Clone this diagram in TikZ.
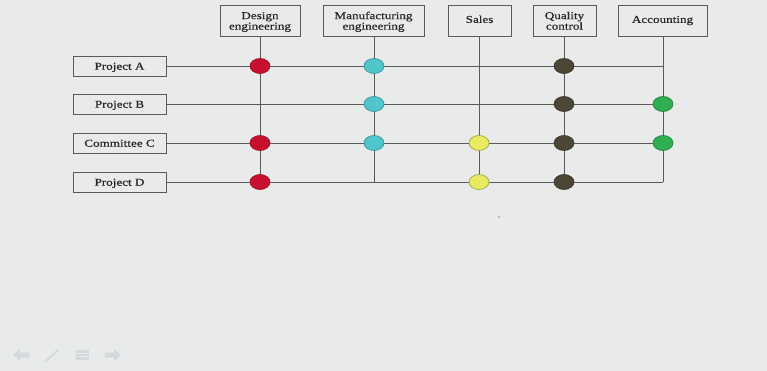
\documentclass[tikz,border=0pt]{standalone}
\usepackage{fontspec}
\setmainfont[FakeStretch=1.25,FakeBold=0.6]{Liberation Serif}
\usetikzlibrary{shapes.geometric}
\definecolor{bg}{HTML}{E9EBEB}
\definecolor{ln}{HTML}{5A5A5A}
\definecolor{txt}{HTML}{262626}
\definecolor{cred}{HTML}{C8102E}
\definecolor{ccyan}{HTML}{4EC6CC}
\definecolor{cyel}{HTML}{E8EA62}
\definecolor{cdark}{HTML}{4B4636}
\definecolor{cgreen}{HTML}{2FAE52}
\definecolor{navc}{HTML}{D3D9DC}
\newcommand{\mytwo}[2]{\begin{tabular}{@{}c@{}}#1\\#2\end{tabular}}
\tikzset{
  dept/.style={draw=ln, line width=0.8pt, fill=bg, text=txt, inner sep=0pt,
    minimum height=31pt, font=\fontsize{10.5}{10.5}\selectfont},
  depttwo/.style={dept, text height=11pt, text depth=2pt},
  deptone/.style={dept, text height=6.6pt, text depth=1.8pt},
  proj/.style={draw=ln, line width=0.8pt, fill=bg, text=txt, inner sep=0pt,
    minimum width=93pt, minimum height=20pt, text height=9.4pt, text depth=2pt,
    font=\fontsize{10.5}{10}\selectfont},
  wire/.style={draw=ln, line width=0.8pt},
  dot/.style={ellipse, minimum width=20pt, minimum height=15pt, inner sep=0pt, line width=0.7pt},
  reddot/.style={dot, fill=cred, draw=cred!80!black},
  cyandot/.style={dot, fill=ccyan, draw=ccyan!75!black},
  yeldot/.style={dot, fill=cyel, draw=cyel!70!black},
  darkdot/.style={dot, fill=cdark, draw=cdark!80!black},
  greendot/.style={dot, fill=cgreen, draw=cgreen!75!black},
}
\begin{document}
\begin{tikzpicture}[x=1pt,y=-1pt]
\fill[bg] (0,0) rectangle (767,371);
\useasboundingbox (0,0) rectangle (767,371);

% department boxes
\node[depttwo, minimum width=80pt]  (des) at (260,20.5) {\mytwo{Design}{engineering}};
\node[depttwo, minimum width=101pt] (man) at (373.5,20.5) {\mytwo{Manufacturing}{engineering}};
\node[deptone, minimum width=63pt]  (sal) at (479.5,20.5) {Sales};
\node[depttwo, minimum width=63pt]  (qua) at (564.5,20.5) {\mytwo{Quality}{control}};
\node[deptone, minimum width=89pt]  (acc) at (662.5,20.5) {Accounting};

% project boxes
\node[proj] (pa) at (119.5,66) {Project A};
\node[proj] (pb) at (119.5,104) {Project B};
\node[proj] (pc) at (119.5,143) {Committee C};
\node[proj] (pd) at (119.5,182) {Project D};

% end coordinates
\coordinate (desE) at (260,182);
\coordinate (manE) at (374,182);
\coordinate (salE) at (479,182);
\coordinate (quaE) at (564,182);
\coordinate (accE) at (663,182);
\coordinate (aE) at (663,66);
\coordinate (bE) at (663,104);
\coordinate (cE) at (663,143);

% wires
\draw[wire] (des.south) -- (desE);
\draw[wire] (man.south -| manE) -- (manE);
\draw[wire] (sal.south -| salE) -- (salE);
\draw[wire] (qua.south -| quaE) -- (quaE);
\draw[wire] (acc.south -| accE) -- (accE);
\draw[wire] (pa.east) -- (aE);
\draw[wire] (pb.east) -- (bE);
\draw[wire] (pc.east) -- (cE);
\draw[wire] (pd.east) -- (accE);

% dots
\node[reddot]   (a1) at (260,66) {};
\node[cyandot]  (a2) at (374,66) {};
\node[darkdot]  (a4) at (564,66) {};
\node[cyandot]  (b2) at (374,104) {};
\node[darkdot]  (b4) at (564,104) {};
\node[greendot] (b5) at (663,104) {};
\node[reddot]   (c1) at (260,143) {};
\node[cyandot]  (c2) at (374,143) {};
\node[yeldot]   (c3) at (479,143) {};
\node[darkdot]  (c4) at (564,143) {};
\node[greendot] (c5) at (663,143) {};
\node[reddot]   (d1) at (260,182) {};
\node[yeldot]   (d3) at (479,182) {};
\node[darkdot]  (d4) at (564,182) {};

% speck
\fill[ln!70] (499,217) circle (0.9pt);

% faint slide navigation icons
\fill[navc] (13,355) -- (20,349) -- (20,352.5) -- (29,352.5) -- (29,357.5) -- (20,357.5) -- (20,361) -- cycle;
\draw[navc, line width=2pt, line cap=round] (46,361) -- (58,350);
\fill[navc] (76,350) rectangle (89,360);
\draw[bg, line width=0.6pt] (77,353.3) -- (88,353.3) (77,356.6) -- (88,356.6);
\fill[navc] (121,355) -- (114,349) -- (114,352.5) -- (105,352.5) -- (105,357.5) -- (114,357.5) -- (114,361) -- cycle;
\end{tikzpicture}
\end{document}
